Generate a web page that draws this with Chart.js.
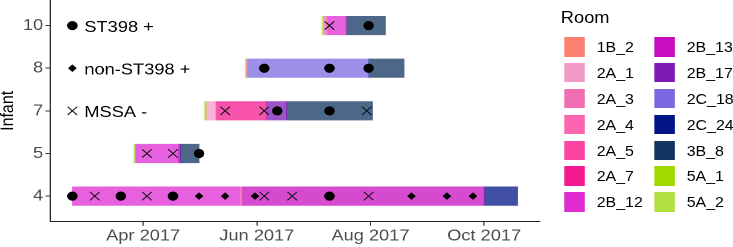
<!DOCTYPE html>
<html><head><meta charset="utf-8">
<script src="https://cdn.jsdelivr.net/npm/chart.js@4.4.1/dist/chart.umd.min.js"></script>
<style>
html,body{margin:0;padding:0;background:#fff;overflow:hidden;}
#wrap{position:absolute;left:0;top:0;width:643px;height:247px;transform:scaleX(1.13997);transform-origin:0 0;font-family:"Liberation Sans",Arial,sans-serif;}
#chartBox{position:absolute;left:0;top:0;width:643px;height:247px;}
.lg-title{position:absolute;left:492px;top:9.5px;font-size:16px;line-height:16px;color:#000;white-space:nowrap;}
.lg-key{position:absolute;width:18.5px;height:19.3px;}
.lg-lab{position:absolute;font-size:14px;line-height:19.3px;color:#000;white-space:nowrap;}
</style></head><body>
<div id="wrap"><div id="chartBox"><canvas id="c" width="643" height="247"></canvas></div><div id="legend"></div></div>
<script>
// ---------- data ----------
const infants = ['4','5','7','8','10'];               // y categories, bottom to top
const rooms = ['1B_2','2A_1','2A_3','2A_4','2A_5','2A_7','2B_12','2B_13','2B_17','2C_18','2C_24','3B_8','5A_1','5A_2'];
const roomColors = ['#FA8072','#F49AC8','#F06EB2','#FA66B0','#F944A2','#F51A90','#DF2CD3','#C80DBF','#7D19B5','#7B69E1','#021587','#113462','#9FD900','#B2E042'];

// room stays (one entry per bar segment)
const stayInfant = ['4','4','4','4', '5','5','5','5', '7','7','7','7','7', '8','8','8', '10','10','10','10'];
const stayRoom   = ['2B_12','2A_4','2B_13','2C_24', '5A_2','2B_12','2B_17','3B_8', '5A_1','2A_1','2A_7','2B_17','3B_8', '1B_2','2C_18','3B_8', '5A_2','2A_3','2B_12','3B_8'];
const stayStart  = ['2017-02-22','2017-05-23','2017-05-24','2017-10-01',
                    '2017-03-27','2017-03-28','2017-04-20','2017-04-21',
                    '2017-05-04','2017-05-05','2017-05-10','2017-06-06','2017-06-17',
                    '2017-05-26','2017-05-27','2017-07-31',
                    '2017-07-06','2017-07-07','2017-07-09','2017-07-19'];
const stayEnd    = ['2017-05-23','2017-05-24','2017-10-01','2017-10-19',
                    '2017-03-28','2017-04-20','2017-04-21','2017-05-01',
                    '2017-05-05','2017-05-10','2017-06-06','2017-06-17','2017-08-02',
                    '2017-05-27','2017-07-31','2017-08-19',
                    '2017-07-07','2017-07-09','2017-07-19','2017-08-09'];

// samples
const sampleTypes = ['ST398 +','non-ST398 +','MSSA -'];
const sampleInfant = ['4','4','4','4','4','4','4','4','4','4','4','4','4','4','4',
                      '5','5','5',
                      '7','7','7','7','7',
                      '8','8','8',
                      '10','10'];
const sampleDate = ['2017-02-22','2017-03-06','2017-03-20','2017-04-03','2017-04-17','2017-05-01','2017-05-15','2017-05-31','2017-06-05','2017-06-20','2017-07-10','2017-07-31','2017-08-23','2017-09-11','2017-09-25',
                    '2017-04-03','2017-04-17','2017-05-01',
                    '2017-05-15','2017-06-05','2017-06-12','2017-07-10','2017-07-30',
                    '2017-06-05','2017-07-10','2017-07-31',
                    '2017-07-10','2017-07-31'];
const sampleType = ['ST398 +','MSSA -','ST398 +','MSSA -','ST398 +','non-ST398 +','non-ST398 +','non-ST398 +','MSSA -','MSSA -','ST398 +','MSSA -','non-ST398 +','non-ST398 +','non-ST398 +',
                    'MSSA -','MSSA -','ST398 +',
                    'MSSA -','MSSA -','ST398 +','ST398 +','MSSA -',
                    'ST398 +','ST398 +','ST398 +',
                    'MSSA -','ST398 +'];

// in-plot key
const keyInfant = ['10','8','7'];
const keyDate = ['2017-02-22','2017-02-22','2017-02-22'];

// x axis
const xRange = ['2017-02-10','2017-10-31'];
const tickDates = ['2017-04-01','2017-06-01','2017-08-01','2017-10-01'];
const tickLabels = ['Apr 2017','Jun 2017','Aug 2017','Oct 2017'];

// ---------- helpers ----------
const DAY0 = Date.UTC(2017,0,1);
function toDay(s){const p=s.split('-').map(Number);return (Date.UTC(p[0],p[1]-1,p[2])-DAY0)/864e5;}
function rgba(hex,a){const n=parseInt(hex.slice(1),16);return 'rgba('+(n>>16)+','+((n>>8)&255)+','+(n&255)+','+a+')';}
const rowOf = inf => infants.indexOf(inf);

const typeStyle = {
  'ST398 +':     {pointStyle:'circle',   radius:4.6, borderWidth:0},
  'non-ST398 +': {pointStyle:'rectRot',  radius:3.8, borderWidth:0},
  'MSSA -':      {pointStyle:'crossRot', radius:5.9, borderWidth:1}
};

Chart.defaults.font.family = '"Liberation Sans", Arial, sans-serif';

const barSets = rooms.map((room,i)=>({
  type:'bar', label:room, indexAxis:'y', grouped:false, order:2,
  xAxisID:'x', yAxisID:'y',
  data: stayRoom.map((r,k)=> r===room ? {x:[toDay(stayStart[k]),toDay(stayEnd[k])], y:rowOf(stayInfant[k])} : null).filter(Boolean),
  backgroundColor: rgba(roomColors[i],0.75), borderWidth:0, barThickness:18.5
}));

const pointSets = sampleTypes.map(t=>{const st=typeStyle[t];return {
  type:'scatter', label:t, order:0, xAxisID:'x', yAxisID:'y',
  data: sampleType.map((ty,k)=> ty===t ? {x:toDay(sampleDate[k]), y:rowOf(sampleInfant[k])} : null).filter(Boolean),
  pointStyle:st.pointStyle, pointRadius:st.radius, pointHoverRadius:st.radius,
  pointBackgroundColor:'#000', pointBorderColor:'#111', pointBorderWidth:st.borderWidth, showLine:false
};});

const keySet = {
  type:'scatter', label:'key', order:0, xAxisID:'x', yAxisID:'y',
  data: keyInfant.map((inf,k)=>({x:toDay(keyDate[k]), y:rowOf(inf)})),
  pointStyle: sampleTypes.map(t=>typeStyle[t].pointStyle),
  pointRadius: sampleTypes.map(t=>typeStyle[t].radius),
  pointBorderWidth: sampleTypes.map(t=>typeStyle[t].borderWidth),
  pointBackgroundColor:'#000', pointBorderColor:'#111', showLine:false
};

const keyText = {
  id:'keyText',
  afterDatasetsDraw(chart){
    const ctx=chart.ctx, xs=chart.scales.x, ys=chart.scales.y;
    ctx.save();
    ctx.font='16px "Liberation Sans", Arial, sans-serif';
    ctx.fillStyle='#000';
    ctx.textBaseline='alphabetic';
    ctx.textAlign='left';
    keyInfant.forEach((inf,k)=>{
      ctx.fillText(sampleTypes[k], xs.getPixelForValue(toDay(keyDate[k]))+10.5, ys.getPixelForValue(rowOf(inf))+6.2);
    });
    ctx.restore();
  }
};

new Chart(document.getElementById('c'), {
  type:'bar',
  data:{datasets:[...barSets, ...pointSets, keySet]},
  options:{
    indexAxis:'y',
    responsive:false, maintainAspectRatio:false, animation:false, devicePixelRatio:2,
    layout:{padding:{left:0,top:0,right:169.3,bottom:0}, autoPadding:false},
    plugins:{legend:{display:false}, tooltip:{enabled:false}},
    scales:{
      x:{type:'linear', position:'bottom', offset:false, beginAtZero:false, min:toDay(xRange[0]), max:toDay(xRange[1]),
        afterBuildTicks:s=>{s.ticks=tickDates.map(d=>({value:toDay(d)}));},
        ticks:{callback:(v,i)=>tickLabels[i], color:'#4D4D4D', font:{size:16}, padding:1, maxRotation:0, autoSkip:false},
        grid:{offset:false, drawOnChartArea:false, drawTicks:true, tickLength:4, tickColor:'#333', tickWidth:1},
        border:{display:true, color:'#222', width:1},
        afterFit:s=>{s.height=25.3; s.paddingLeft=0; s.paddingRight=0;}
      },
      y:{type:'linear', position:'left', offset:false, beginAtZero:false, min:-0.6, max:4.6,
        afterBuildTicks:s=>{s.ticks=infants.map((_,i)=>({value:i}));},
        ticks:{callback:(v,i)=>infants[i], color:'#4D4D4D', font:{size:16}, padding:2, autoSkip:false},
        grid:{offset:false, drawOnChartArea:false, drawTicks:true, tickLength:4, tickColor:'#333', tickWidth:1},
        border:{display:true, color:'#222', width:1},
        title:{display:true, text:'Infant', color:'#000', font:{size:16, lineHeight:1}, padding:{top:-1,bottom:0}},
        afterFit:s=>{s.width=43.86; s.paddingTop=0; s.paddingBottom=0;}
      }
    }
  },
  plugins:[keyText]
});

// ---------- legend ----------
const lg=document.getElementById('legend');
const t=document.createElement('div');t.className='lg-title';t.textContent='Room';lg.appendChild(t);
rooms.forEach((room,i)=>{
  const col=Math.floor(i/7), row=i%7;
  const top=37.3+row*25.83;
  const k=document.createElement('div');k.className='lg-key';
  k.style.left=(col?573.7:494.7)+'px';k.style.top=top+'px';k.style.background=roomColors[i];
  const l=document.createElement('div');l.className='lg-lab';
  l.style.left=(col?602.4:523.4)+'px';l.style.top=(top+1)+'px';l.textContent=room;
  lg.appendChild(k);lg.appendChild(l);
});
</script></body></html>
